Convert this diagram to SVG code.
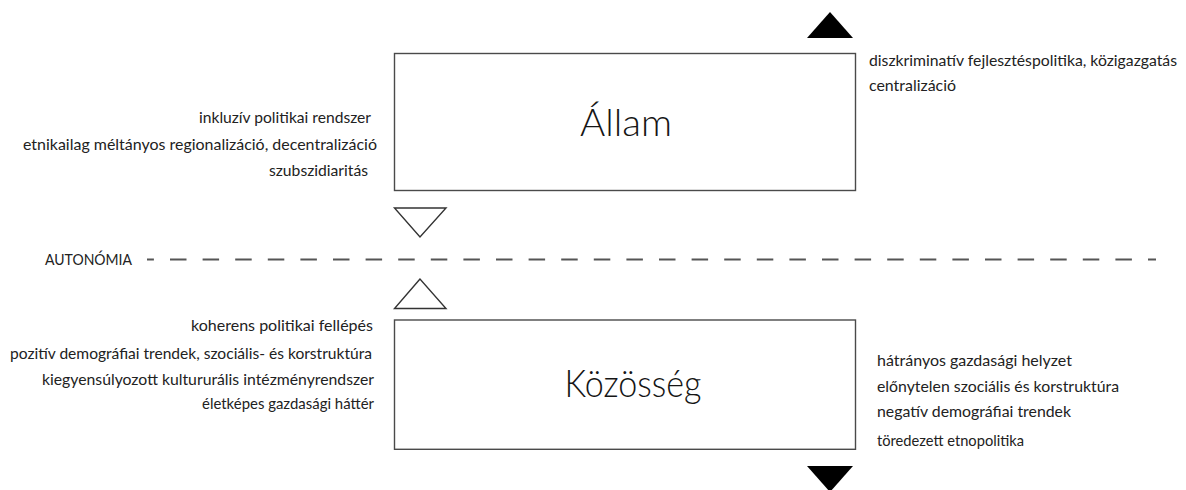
<svg xmlns="http://www.w3.org/2000/svg" width="1186" height="490" viewBox="0 0 1186 490">
  <style>
    .box { fill: #ffffff; stroke: #4a4a4a; stroke-width: 1.4; }
    .big { font-family: Lato, "Open Sans", "DejaVu Sans", sans-serif; font-weight: 300; font-size: 37px; fill: #151515; text-anchor: middle; }
    .lbl { font-family: Lato, "Open Sans", "DejaVu Sans", sans-serif; font-size: 15px; fill: #222222; }
    .end { text-anchor: end; }
    .tri-open { fill: #ffffff; stroke: #333333; stroke-width: 1.4; stroke-linejoin: miter; }
    .tri-solid { fill: #000000; stroke: none; }
    .axis { stroke: #555555; stroke-width: 2; stroke-dasharray: 16.5 16.1; fill: none; }
  </style>

  <g id="autonomia">
    <text class="lbl" x="45" y="264.5" textLength="87" lengthAdjust="spacingAndGlyphs">AUTONÓMIA</text>
    <line class="axis" x1="147" y1="259.5" x2="1156" y2="259.5" stroke-dashoffset="9.6"/>
  </g>

  <g id="allam">
    <rect class="box" x="394.5" y="53.5" width="461" height="137"/>
    <text class="big" x="626" y="136" textLength="92" lengthAdjust="spacingAndGlyphs">Állam</text>
  </g>

  <g id="kozosseg">
    <rect class="box" x="394.5" y="320" width="461" height="129.3"/>
    <text class="big" x="633" y="397" textLength="137" lengthAdjust="spacingAndGlyphs">Közösség</text>
  </g>

  <g id="allam-left-labels">
    <text class="lbl end" x="371" y="122.5" textLength="172" lengthAdjust="spacingAndGlyphs">inkluzív politikai rendszer</text>
    <text class="lbl end" x="377" y="149.5" textLength="354" lengthAdjust="spacingAndGlyphs">etnikailag méltányos regionalizáció, decentralizáció</text>
    <text class="lbl end" x="368" y="176" textLength="99" lengthAdjust="spacingAndGlyphs">szubszidiaritás</text>
  </g>

  <g id="allam-right-labels">
    <text class="lbl" x="869" y="65.5" textLength="308" lengthAdjust="spacingAndGlyphs">diszkriminatív fejlesztéspolitika, közigazgatás</text>
    <text class="lbl" x="869" y="90.5" textLength="87" lengthAdjust="spacingAndGlyphs">centralizáció</text>
  </g>

  <g id="kozosseg-left-labels">
    <text class="lbl end" x="373" y="330.5" textLength="182" lengthAdjust="spacingAndGlyphs">koherens politikai fellépés</text>
    <text class="lbl end" x="372" y="358.5" textLength="362" lengthAdjust="spacingAndGlyphs">pozitív demográfiai trendek, szociális- és korstruktúra</text>
    <text class="lbl end" x="374" y="385" textLength="332" lengthAdjust="spacingAndGlyphs">kiegyensúlyozott kultururális intézményrendszer</text>
    <text class="lbl end" x="374" y="408.5" textLength="172" lengthAdjust="spacingAndGlyphs">életképes gazdasági háttér</text>
  </g>

  <g id="kozosseg-right-labels">
    <text class="lbl" x="877" y="366" textLength="195" lengthAdjust="spacingAndGlyphs">hátrányos gazdasági helyzet</text>
    <text class="lbl" x="877" y="392" textLength="242" lengthAdjust="spacingAndGlyphs">előnytelen szociális és korstruktúra</text>
    <text class="lbl" x="877" y="417" textLength="194" lengthAdjust="spacingAndGlyphs">negatív demográfiai trendek</text>
    <text class="lbl" x="877" y="446" textLength="147" lengthAdjust="spacingAndGlyphs">töredezett etnopolitika</text>
  </g>

  <g id="connectors">
    <polygon class="tri-solid" points="830,12 807,38 853,38"/>
    <polygon class="tri-open" points="394.5,208 446,208 420,237"/>
    <polygon class="tri-open" points="420,279 394.5,308.5 446,308.5"/>
    <polygon class="tri-solid" points="807,466 853,466 830,492"/>
  </g>
</svg>
